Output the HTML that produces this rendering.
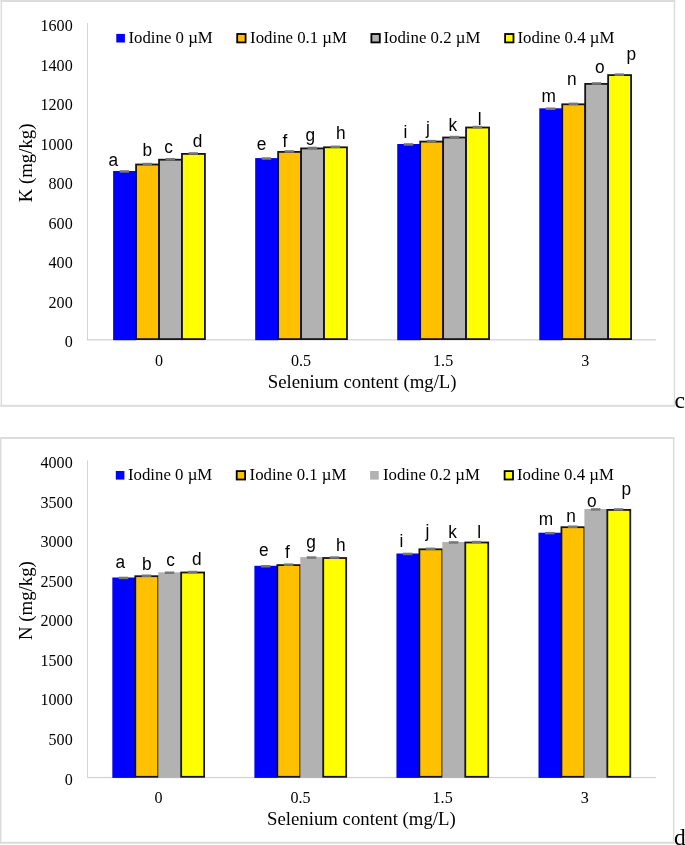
<!DOCTYPE html>
<html><head><meta charset="utf-8"><style>
html,body{margin:0;padding:0;background:#fff;overflow:hidden;}
svg{display:block;will-change:transform;}
text{fill:#000;}
</style></head><body>
<svg width="685" height="845" viewBox="0 0 685 845">
<rect width="685" height="845" fill="#fff"/>
<g transform="translate(0,0)">
<rect x="0.6" y="0" width="674.6" height="2" fill="#dcdcdc"/>
<rect x="0.6" y="404.8" width="674.6" height="2" fill="#dcdcdc"/>
<rect x="0.6" y="0" width="1.5" height="406.8" fill="#dcdcdc"/>
<rect x="673.7" y="0" width="1.5" height="406.8" fill="#dcdcdc"/>
<rect x="87" y="23" width="1" height="317.2" fill="#d4d4d4"/>
<rect x="87" y="339.2" width="569" height="1.3" fill="#d4d4d4"/>
<text transform="translate(72.7,347.30) scale(0.97,1)" text-anchor="end" font-family='"Liberation Serif", serif' font-size="16.6">0</text>
<text transform="translate(72.7,307.78) scale(0.97,1)" text-anchor="end" font-family='"Liberation Serif", serif' font-size="16.6">200</text>
<text transform="translate(72.7,268.25) scale(0.97,1)" text-anchor="end" font-family='"Liberation Serif", serif' font-size="16.6">400</text>
<text transform="translate(72.7,228.72) scale(0.97,1)" text-anchor="end" font-family='"Liberation Serif", serif' font-size="16.6">600</text>
<text transform="translate(72.7,189.20) scale(0.97,1)" text-anchor="end" font-family='"Liberation Serif", serif' font-size="16.6">800</text>
<text transform="translate(72.7,149.67) scale(0.97,1)" text-anchor="end" font-family='"Liberation Serif", serif' font-size="16.6">1000</text>
<text transform="translate(72.7,110.15) scale(0.97,1)" text-anchor="end" font-family='"Liberation Serif", serif' font-size="16.6">1200</text>
<text transform="translate(72.7,70.62) scale(0.97,1)" text-anchor="end" font-family='"Liberation Serif", serif' font-size="16.6">1400</text>
<text transform="translate(72.7,31.10) scale(0.97,1)" text-anchor="end" font-family='"Liberation Serif", serif' font-size="16.6">1600</text>
<text transform="translate(159.03,365.5) scale(0.97,1)" text-anchor="middle" font-family='"Liberation Serif", serif' font-size="16.6">0</text>
<rect x="113.13" y="171.00" width="22.95" height="169.20" fill="#0000FF"/>
<rect x="136.08" y="164.50" width="22.95" height="174.60" fill="#FFC000" stroke="#151515" stroke-width="1.8"/>
<rect x="159.03" y="159.70" width="22.95" height="179.40" fill="#B2B2B2" stroke="#151515" stroke-width="1.8"/>
<rect x="181.97" y="153.90" width="22.95" height="185.20" fill="#FFFF00" stroke="#151515" stroke-width="1.8"/>
<rect x="119.65" y="170.20" width="9.5" height="2.5" fill="#777777"/>
<rect x="142.60" y="162.80" width="9.5" height="2.5" fill="#777777"/>
<rect x="165.55" y="158.00" width="9.5" height="2.5" fill="#777777"/>
<rect x="188.50" y="152.20" width="9.5" height="2.5" fill="#777777"/>
<text transform="translate(301.08,365.5) scale(0.97,1)" text-anchor="middle" font-family='"Liberation Serif", serif' font-size="16.6">0.5</text>
<rect x="255.18" y="158.10" width="22.95" height="182.10" fill="#0000FF"/>
<rect x="278.13" y="151.90" width="22.95" height="187.20" fill="#FFC000" stroke="#151515" stroke-width="1.8"/>
<rect x="301.08" y="148.40" width="22.95" height="190.70" fill="#B2B2B2" stroke="#151515" stroke-width="1.8"/>
<rect x="324.02" y="147.30" width="22.95" height="191.80" fill="#FFFF00" stroke="#151515" stroke-width="1.8"/>
<rect x="261.70" y="157.30" width="9.5" height="2.5" fill="#777777"/>
<rect x="284.65" y="150.20" width="9.5" height="2.5" fill="#777777"/>
<rect x="307.60" y="146.70" width="9.5" height="2.5" fill="#777777"/>
<rect x="330.55" y="145.60" width="9.5" height="2.5" fill="#777777"/>
<text transform="translate(443.12,365.5) scale(0.97,1)" text-anchor="middle" font-family='"Liberation Serif", serif' font-size="16.6">1.5</text>
<rect x="397.23" y="144.00" width="22.95" height="196.20" fill="#0000FF"/>
<rect x="420.18" y="141.60" width="22.95" height="197.50" fill="#FFC000" stroke="#151515" stroke-width="1.8"/>
<rect x="443.12" y="137.50" width="22.95" height="201.60" fill="#B2B2B2" stroke="#151515" stroke-width="1.8"/>
<rect x="466.07" y="127.50" width="22.95" height="211.60" fill="#FFFF00" stroke="#151515" stroke-width="1.8"/>
<rect x="403.75" y="143.20" width="9.5" height="2.5" fill="#777777"/>
<rect x="426.70" y="139.90" width="9.5" height="2.5" fill="#777777"/>
<rect x="449.65" y="135.80" width="9.5" height="2.5" fill="#777777"/>
<rect x="472.60" y="125.80" width="9.5" height="2.5" fill="#777777"/>
<text transform="translate(585.18,365.5) scale(0.97,1)" text-anchor="middle" font-family='"Liberation Serif", serif' font-size="16.6">3</text>
<rect x="539.28" y="108.30" width="22.95" height="231.90" fill="#0000FF"/>
<rect x="562.23" y="104.30" width="22.95" height="234.80" fill="#FFC000" stroke="#151515" stroke-width="1.8"/>
<rect x="585.18" y="83.90" width="22.95" height="255.20" fill="#B2B2B2" stroke="#151515" stroke-width="1.8"/>
<rect x="608.12" y="75.10" width="22.95" height="264.00" fill="#FFFF00" stroke="#151515" stroke-width="1.8"/>
<rect x="545.80" y="107.50" width="9.5" height="2.5" fill="#777777"/>
<rect x="568.75" y="102.60" width="9.5" height="2.5" fill="#777777"/>
<rect x="591.70" y="82.20" width="9.5" height="2.5" fill="#777777"/>
<rect x="614.65" y="73.40" width="9.5" height="2.5" fill="#777777"/>
<text transform="translate(113.20,165.70) scale(0.93,1)" text-anchor="middle" font-family='"Liberation Sans", sans-serif' font-size="18.6">a</text>
<text transform="translate(147.30,155.70) scale(0.93,1)" text-anchor="middle" font-family='"Liberation Sans", sans-serif' font-size="18.6">b</text>
<text transform="translate(168.60,153.40) scale(0.93,1)" text-anchor="middle" font-family='"Liberation Sans", sans-serif' font-size="18.6">c</text>
<text transform="translate(197.50,146.50) scale(0.93,1)" text-anchor="middle" font-family='"Liberation Sans", sans-serif' font-size="18.6">d</text>
<text transform="translate(261.50,149.80) scale(0.93,1)" text-anchor="middle" font-family='"Liberation Sans", sans-serif' font-size="18.6">e</text>
<text transform="translate(284.90,146.80) scale(0.93,1)" text-anchor="middle" font-family='"Liberation Sans", sans-serif' font-size="18.6">f</text>
<text transform="translate(310.30,140.90) scale(0.93,1)" text-anchor="middle" font-family='"Liberation Sans", sans-serif' font-size="18.6">g</text>
<text transform="translate(340.80,138.60) scale(0.93,1)" text-anchor="middle" font-family='"Liberation Sans", sans-serif' font-size="18.6">h</text>
<text transform="translate(405.50,138.40) scale(0.93,1)" text-anchor="middle" font-family='"Liberation Sans", sans-serif' font-size="18.6">i</text>
<text transform="translate(428.00,134.20) scale(0.93,1)" text-anchor="middle" font-family='"Liberation Sans", sans-serif' font-size="18.6">j</text>
<text transform="translate(452.90,131.40) scale(0.93,1)" text-anchor="middle" font-family='"Liberation Sans", sans-serif' font-size="18.6">k</text>
<text transform="translate(479.70,125.30) scale(0.93,1)" text-anchor="middle" font-family='"Liberation Sans", sans-serif' font-size="18.6">l</text>
<text transform="translate(548.70,102.10) scale(0.93,1)" text-anchor="middle" font-family='"Liberation Sans", sans-serif' font-size="18.6">m</text>
<text transform="translate(571.90,85.30) scale(0.93,1)" text-anchor="middle" font-family='"Liberation Sans", sans-serif' font-size="18.6">n</text>
<text transform="translate(599.70,73.00) scale(0.93,1)" text-anchor="middle" font-family='"Liberation Sans", sans-serif' font-size="18.6">o</text>
<text transform="translate(631.40,60.10) scale(0.93,1)" text-anchor="middle" font-family='"Liberation Sans", sans-serif' font-size="18.6">p</text>
<text x="362.2" y="387.59999999999997" text-anchor="middle" font-family='"Liberation Serif", serif' font-size="18.8">Selenium content (mg/L)</text>
<text transform="translate(32.4,162.95) rotate(-90)" text-anchor="middle" font-family='"Liberation Serif", serif' font-size="18.8">K (mg/kg)</text>
<rect x="116.30" y="33.90" width="8.6" height="8.6" fill="#0000FF"/>
<text x="128.50" y="42.60" font-family='"Liberation Serif", serif' font-size="16.8">Iodine 0 µM</text>
<rect x="237.20" y="34.00" width="8.4" height="8.4" fill="#FFC000" stroke="#000" stroke-width="1.8"/>
<text x="250.10" y="42.60" font-family='"Liberation Serif", serif' font-size="16.8">Iodine 0.1 µM</text>
<rect x="371.40" y="34.00" width="8.4" height="8.4" fill="#B2B2B2" stroke="#000" stroke-width="1.8"/>
<text x="383.50" y="42.60" font-family='"Liberation Serif", serif' font-size="16.8">Iodine 0.2 µM</text>
<rect x="505.10" y="34.00" width="8.4" height="8.4" fill="#FFFF00" stroke="#000" stroke-width="1.8"/>
<text x="517.50" y="42.60" font-family='"Liberation Serif", serif' font-size="16.8">Iodine 0.4 µM</text>
<text x="674.6" y="407.8" font-family='"Liberation Serif", serif' font-size="23.5">c</text>
</g>
<g transform="translate(-0.8,437.4)">
<rect x="0.8" y="-0.4" width="674.4000000000001" height="2" fill="#dcdcdc"/>
<rect x="0.8" y="404.4" width="674.4000000000001" height="2" fill="#dcdcdc"/>
<rect x="0.8" y="-0.4" width="1.5" height="406.79999999999995" fill="#dcdcdc"/>
<rect x="673.7" y="-0.4" width="1.5" height="406.79999999999995" fill="#dcdcdc"/>
<rect x="87.8" y="23" width="1" height="317.5" fill="#d4d4d4"/>
<rect x="87.8" y="339.5" width="569" height="1.3" fill="#d4d4d4"/>
<text transform="translate(73.5,347.10) scale(0.97,1)" text-anchor="end" font-family='"Liberation Serif", serif' font-size="16.6">0</text>
<text transform="translate(73.5,307.54) scale(0.97,1)" text-anchor="end" font-family='"Liberation Serif", serif' font-size="16.6">500</text>
<text transform="translate(73.5,267.98) scale(0.97,1)" text-anchor="end" font-family='"Liberation Serif", serif' font-size="16.6">1000</text>
<text transform="translate(73.5,228.41) scale(0.97,1)" text-anchor="end" font-family='"Liberation Serif", serif' font-size="16.6">1500</text>
<text transform="translate(73.5,188.85) scale(0.97,1)" text-anchor="end" font-family='"Liberation Serif", serif' font-size="16.6">2000</text>
<text transform="translate(73.5,149.29) scale(0.97,1)" text-anchor="end" font-family='"Liberation Serif", serif' font-size="16.6">2500</text>
<text transform="translate(73.5,109.72) scale(0.97,1)" text-anchor="end" font-family='"Liberation Serif", serif' font-size="16.6">3000</text>
<text transform="translate(73.5,70.16) scale(0.97,1)" text-anchor="end" font-family='"Liberation Serif", serif' font-size="16.6">3500</text>
<text transform="translate(73.5,30.60) scale(0.97,1)" text-anchor="end" font-family='"Liberation Serif", serif' font-size="16.6">4000</text>
<text transform="translate(159.33,365.2) scale(0.97,1)" text-anchor="middle" font-family='"Liberation Serif", serif' font-size="16.6">0</text>
<rect x="113.13" y="140.10" width="22.95" height="200.40" fill="#0000FF"/>
<rect x="136.08" y="138.80" width="22.95" height="200.60" fill="#FFC000" stroke="#151515" stroke-width="1.8"/>
<rect x="159.03" y="134.90" width="22.95" height="205.60" fill="#B2B2B2"/>
<rect x="181.97" y="135.10" width="22.95" height="204.30" fill="#FFFF00" stroke="#151515" stroke-width="1.8"/>
<rect x="119.65" y="139.30" width="9.5" height="2.5" fill="#777777"/>
<rect x="142.60" y="137.10" width="9.5" height="2.5" fill="#777777"/>
<rect x="165.55" y="134.10" width="9.5" height="2.5" fill="#777777"/>
<rect x="188.50" y="133.40" width="9.5" height="2.5" fill="#777777"/>
<text transform="translate(301.38,365.2) scale(0.97,1)" text-anchor="middle" font-family='"Liberation Serif", serif' font-size="16.6">0.5</text>
<rect x="255.18" y="128.40" width="22.95" height="212.10" fill="#0000FF"/>
<rect x="278.13" y="127.70" width="22.95" height="211.70" fill="#FFC000" stroke="#151515" stroke-width="1.8"/>
<rect x="301.08" y="119.70" width="22.95" height="220.80" fill="#B2B2B2"/>
<rect x="324.02" y="120.60" width="22.95" height="218.80" fill="#FFFF00" stroke="#151515" stroke-width="1.8"/>
<rect x="261.70" y="127.60" width="9.5" height="2.5" fill="#777777"/>
<rect x="284.65" y="126.00" width="9.5" height="2.5" fill="#777777"/>
<rect x="307.60" y="118.90" width="9.5" height="2.5" fill="#777777"/>
<rect x="330.55" y="118.90" width="9.5" height="2.5" fill="#777777"/>
<text transform="translate(443.43,365.2) scale(0.97,1)" text-anchor="middle" font-family='"Liberation Serif", serif' font-size="16.6">1.5</text>
<rect x="397.23" y="116.10" width="22.95" height="224.40" fill="#0000FF"/>
<rect x="420.18" y="111.90" width="22.95" height="227.50" fill="#FFC000" stroke="#151515" stroke-width="1.8"/>
<rect x="443.12" y="104.60" width="22.95" height="235.90" fill="#B2B2B2"/>
<rect x="466.07" y="105.10" width="22.95" height="234.30" fill="#FFFF00" stroke="#151515" stroke-width="1.8"/>
<rect x="403.75" y="115.30" width="9.5" height="2.5" fill="#777777"/>
<rect x="426.70" y="110.20" width="9.5" height="2.5" fill="#777777"/>
<rect x="449.65" y="103.80" width="9.5" height="2.5" fill="#777777"/>
<rect x="472.60" y="103.40" width="9.5" height="2.5" fill="#777777"/>
<text transform="translate(585.48,365.2) scale(0.97,1)" text-anchor="middle" font-family='"Liberation Serif", serif' font-size="16.6">3</text>
<rect x="539.28" y="95.30" width="22.95" height="245.20" fill="#0000FF"/>
<rect x="562.23" y="89.80" width="22.95" height="249.60" fill="#FFC000" stroke="#151515" stroke-width="1.8"/>
<rect x="585.18" y="71.60" width="22.95" height="268.90" fill="#B2B2B2"/>
<rect x="608.12" y="72.50" width="22.95" height="266.90" fill="#FFFF00" stroke="#151515" stroke-width="1.8"/>
<rect x="545.80" y="94.50" width="9.5" height="2.5" fill="#777777"/>
<rect x="568.75" y="88.10" width="9.5" height="2.5" fill="#777777"/>
<rect x="591.70" y="70.80" width="9.5" height="2.5" fill="#777777"/>
<rect x="614.65" y="70.80" width="9.5" height="2.5" fill="#777777"/>
<text transform="translate(121.10,130.40) scale(0.93,1)" text-anchor="middle" font-family='"Liberation Sans", sans-serif' font-size="18.6">a</text>
<text transform="translate(147.60,132.20) scale(0.93,1)" text-anchor="middle" font-family='"Liberation Sans", sans-serif' font-size="18.6">b</text>
<text transform="translate(171.30,128.40) scale(0.93,1)" text-anchor="middle" font-family='"Liberation Sans", sans-serif' font-size="18.6">c</text>
<text transform="translate(197.70,127.60) scale(0.93,1)" text-anchor="middle" font-family='"Liberation Sans", sans-serif' font-size="18.6">d</text>
<text transform="translate(264.60,118.40) scale(0.93,1)" text-anchor="middle" font-family='"Liberation Sans", sans-serif' font-size="18.6">e</text>
<text transform="translate(288.30,120.20) scale(0.93,1)" text-anchor="middle" font-family='"Liberation Sans", sans-serif' font-size="18.6">f</text>
<text transform="translate(311.80,110.60) scale(0.93,1)" text-anchor="middle" font-family='"Liberation Sans", sans-serif' font-size="18.6">g</text>
<text transform="translate(341.60,113.30) scale(0.93,1)" text-anchor="middle" font-family='"Liberation Sans", sans-serif' font-size="18.6">h</text>
<text transform="translate(402.20,109.60) scale(0.93,1)" text-anchor="middle" font-family='"Liberation Sans", sans-serif' font-size="18.6">i</text>
<text transform="translate(428.30,99.40) scale(0.93,1)" text-anchor="middle" font-family='"Liberation Sans", sans-serif' font-size="18.6">j</text>
<text transform="translate(453.30,100.90) scale(0.93,1)" text-anchor="middle" font-family='"Liberation Sans", sans-serif' font-size="18.6">k</text>
<text transform="translate(480.00,100.90) scale(0.93,1)" text-anchor="middle" font-family='"Liberation Sans", sans-serif' font-size="18.6">l</text>
<text transform="translate(546.70,87.40) scale(0.93,1)" text-anchor="middle" font-family='"Liberation Sans", sans-serif' font-size="18.6">m</text>
<text transform="translate(571.90,84.50) scale(0.93,1)" text-anchor="middle" font-family='"Liberation Sans", sans-serif' font-size="18.6">n</text>
<text transform="translate(592.60,69.10) scale(0.93,1)" text-anchor="middle" font-family='"Liberation Sans", sans-serif' font-size="18.6">o</text>
<text transform="translate(627.10,57.60) scale(0.93,1)" text-anchor="middle" font-family='"Liberation Sans", sans-serif' font-size="18.6">p</text>
<text x="362.2" y="387.9" text-anchor="middle" font-family='"Liberation Serif", serif' font-size="18.8">Selenium content (mg/L)</text>
<text transform="translate(32.4,163.20000000000005) rotate(-90)" text-anchor="middle" font-family='"Liberation Serif", serif' font-size="18.8">N (mg/kg)</text>
<rect x="116.60" y="33.60" width="8.6" height="8.6" fill="#0000FF"/>
<text x="128.80" y="42.30" font-family='"Liberation Serif", serif' font-size="16.8">Iodine 0 µM</text>
<rect x="237.50" y="33.70" width="8.4" height="8.4" fill="#FFC000" stroke="#000" stroke-width="1.8"/>
<text x="250.40" y="42.30" font-family='"Liberation Serif", serif' font-size="16.8">Iodine 0.1 µM</text>
<rect x="370.90" y="33.60" width="8.6" height="8.6" fill="#B2B2B2"/>
<text x="383.80" y="42.30" font-family='"Liberation Serif", serif' font-size="16.8">Iodine 0.2 µM</text>
<rect x="505.40" y="33.70" width="8.4" height="8.4" fill="#FFFF00" stroke="#000" stroke-width="1.8"/>
<text x="517.80" y="42.30" font-family='"Liberation Serif", serif' font-size="16.8">Iodine 0.4 µM</text>
<text x="674.7" y="407.4" font-family='"Liberation Serif", serif' font-size="23.5">d</text>
</g>
</svg>
</body></html>
